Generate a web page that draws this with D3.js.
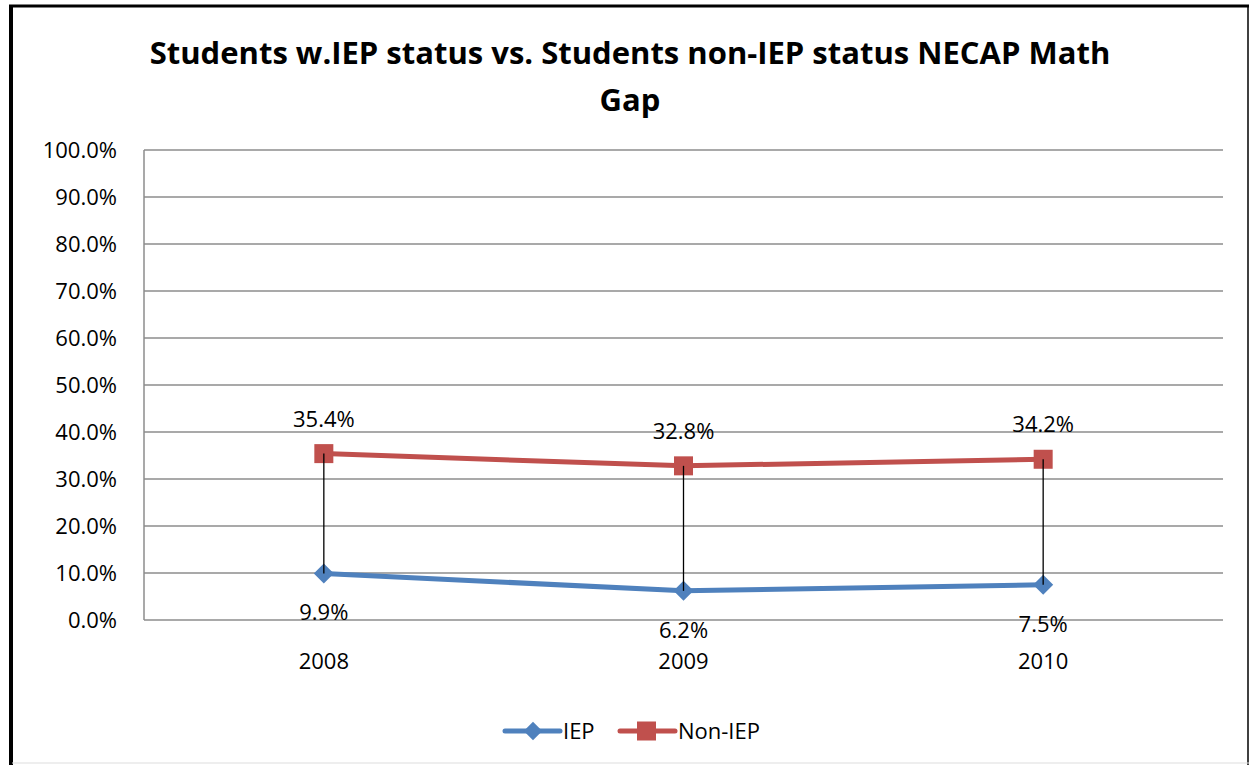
<!DOCTYPE html>
<html lang="en">
<head>
    <meta charset="UTF-8">
    <title>Students w.IEP status vs. Students non-IEP status NECAP Math Gap</title>
    <script src="https://d3js.org/d3.v7.min.js"></script>
    <style>
        body {
            margin: 0;
            padding: 0;
            background: #fff;
        }
        svg text {
            font-family: "Open Sans", "DejaVu Sans", sans-serif;
            fill: #000;
        }
        .grid line {
            stroke: #8c8c8c;
            stroke-width: 1.5;
        }
    </style>
</head>
<body>
    <div id="chart"></div>
    <script>
        // Chart data
        const years = ["2008", "2009", "2010"];
        const iep = [9.9, 6.2, 7.5];
        const nonIep = [35.4, 32.8, 34.2];
        const yTicks = [0, 10, 20, 30, 40, 50, 60, 70, 80, 90, 100];

        const width = 1252, height = 765;
        const margin = {top: 150, right: 29, bottom: 145, left: 144};
        const fs = "22px";

        const svg = d3.select("#chart")
            .append("svg")
            .attr("width", width)
            .attr("height", height);

        // outer frame
        svg.append("line").attr("x1", 11).attr("y1", 5).attr("x2", 11).attr("y2", height)
            .attr("stroke", "#000").attr("stroke-width", 4);
        svg.append("line").attr("x1", 9).attr("y1", 6).attr("x2", 1249).attr("y2", 6)
            .attr("stroke", "#000").attr("stroke-width", 3);
        svg.append("line").attr("x1", 1248).attr("y1", 5).attr("x2", 1248).attr("y2", height)
            .attr("stroke", "#000").attr("stroke-width", 1.5);
        svg.append("line").attr("x1", 12).attr("y1", 763).attr("x2", 1249).attr("y2", 763)
            .attr("stroke", "#ddd").attr("stroke-width", 1);

        const x = d3.scaleBand()
            .domain(years)
            .range([margin.left, width - margin.right]);

        const y = d3.scaleLinear()
            .domain([0, 100])
            .range([height - margin.bottom, margin.top]);

        // title
        const title = svg.append("text")
            .attr("text-anchor", "middle")
            .style("font-weight", "bold")
            .style("font-size", "31px");
        title.append("tspan").attr("x", 630).attr("y", 64)
            .text("Students w.IEP status vs. Students non-IEP status NECAP Math");
        title.append("tspan").attr("x", 630).attr("y", 111).text("Gap");

        // gridlines
        svg.append("g")
            .attr("class", "grid")
            .selectAll("line")
            .data(yTicks)
            .join("line")
            .attr("x1", margin.left)
            .attr("x2", width - margin.right)
            .attr("y1", d => y(d))
            .attr("y2", d => y(d));

        svg.append("line")
            .attr("x1", margin.left).attr("x2", margin.left)
            .attr("y1", y(100)).attr("y2", y(0))
            .attr("stroke", "#8c8c8c").attr("stroke-width", 1.5);

        // y axis labels
        const yAxis = d3.axisLeft(y)
            .tickValues(yTicks)
            .tickFormat(d => d.toFixed(1) + "%")
            .tickSize(0)
            .tickPadding(27);
        const yg = svg.append("g")
            .attr("transform", `translate(${margin.left},0)`)
            .call(yAxis);
        yg.select(".domain").remove();
        yg.selectAll("text").style("font-size", fs);

        // x axis labels
        const xAxis = d3.axisBottom(x).tickSize(0).tickPadding(33);
        const xg = svg.append("g")
            .attr("transform", `translate(0,${y(0)})`)
            .call(xAxis);
        xg.select(".domain").remove();
        xg.selectAll("text").style("font-size", fs);

        const cx = d => x(d) + x.bandwidth() / 2;

        const line = d3.line()
            .x((d, i) => cx(years[i]))
            .y(d => y(d));

        const blue = "#4f81bd", red = "#c0504d";

        svg.append("path").datum(iep)
            .attr("d", line).attr("fill", "none")
            .attr("stroke", blue).attr("stroke-width", 5);
        svg.append("path").datum(nonIep)
            .attr("d", line).attr("fill", "none")
            .attr("stroke", red).attr("stroke-width", 5);

        // markers
        const diamond = d3.symbol().type(d3.symbolSquare).size(200);
        svg.append("g").selectAll("path")
            .data(iep)
            .join("path")
            .attr("d", diamond)
            .attr("transform", (d, i) => `translate(${cx(years[i])},${y(d)}) rotate(45)`)
            .attr("fill", blue);

        svg.append("g").selectAll("rect")
            .data(nonIep)
            .join("rect")
            .attr("x", (d, i) => cx(years[i]) - 9.5)
            .attr("y", d => y(d) - 9.5)
            .attr("width", 19)
            .attr("height", 19)
            .attr("fill", red);

        // high-low lines, drawn over the markers
        svg.append("g")
            .selectAll("line")
            .data(years)
            .join("line")
            .attr("x1", d => cx(d))
            .attr("x2", d => cx(d))
            .attr("y1", (d, i) => y(nonIep[i]))
            .attr("y2", (d, i) => y(iep[i]))
            .attr("stroke", "#000")
            .attr("stroke-width", 1.3);

        // data labels
        svg.append("g").selectAll("text")
            .data(nonIep)
            .join("text")
            .attr("x", (d, i) => cx(years[i]))
            .attr("y", d => y(d) - 27)
            .attr("text-anchor", "middle")
            .style("font-size", fs)
            .text(d => d.toFixed(1) + "%");

        svg.append("g").selectAll("text")
            .data(iep)
            .join("text")
            .attr("x", (d, i) => cx(years[i]))
            .attr("y", d => y(d) + 47)
            .attr("text-anchor", "middle")
            .style("font-size", fs)
            .text(d => d.toFixed(1) + "%");

        // legend
        const legend = svg.append("g").attr("transform", "translate(505,731)");
        const items = [
            {name: "IEP", color: blue, shape: "diamond"},
            {name: "Non-IEP", color: red, shape: "square"}
        ];
        const offsets = [0, 115];
        items.forEach((it, i) => {
            const g = legend.append("g").attr("transform", `translate(${offsets[i]},0)`);
            g.append("line").attr("x1", 0).attr("x2", 55).attr("y1", 0).attr("y2", 0)
                .attr("stroke", it.color).attr("stroke-width", 5).attr("stroke-linecap", "round");
            if (it.shape === "diamond") {
                g.append("path").attr("d", d3.symbol().type(d3.symbolSquare).size(170))
                    .attr("transform", "translate(28,0) rotate(45)").attr("fill", it.color);
            } else {
                g.append("rect").attr("x", 17).attr("y", -9.5).attr("width", 19).attr("height", 19)
                    .attr("fill", it.color);
            }
            g.append("text").attr("x", 58).attr("y", 8).style("font-size", fs).text(it.name);
        });
    </script>
</body>
</html>
